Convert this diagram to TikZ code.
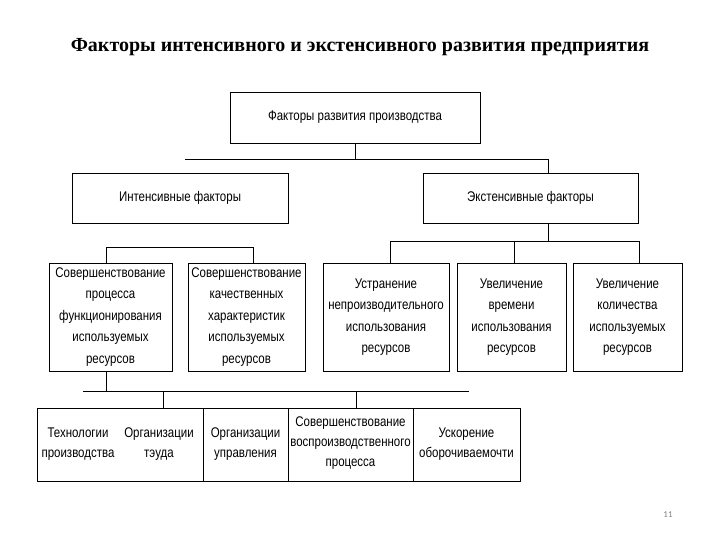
\documentclass[tikz,border=0pt]{standalone}
\usepackage{fontspec}
\setmainfont{Liberation Serif}
\newfontfamily\boxfont[FakeStretch=0.82]{Liberation Sans}
\newfontfamily\pagefont{Carlito}
\tikzstyle{factor}=[
        draw,
        line width=0.8pt,
        align=center,
        inner sep=0pt,
        font=\boxfont\fontsize{14}{21.5}\selectfont
]
\tikzstyle{cell}=[
        align=center,
        inner sep=0pt,
        font=\boxfont\fontsize{14}{20}\selectfont
]
\tikzstyle{link}=[
        line width=0.8pt
]

\begin{document}
\begin{tikzpicture}[x=1pt,y=-1pt]
                    \useasboundingbox (0,0) rectangle (720,540);

                    \node[font=\bfseries\fontsize{20}{22}\selectfont] (title) at (360,47) {Факторы интенсивного и экстенсивного развития предприятия};

                    \node[factor, minimum width=250pt, minimum height=51pt] (prod) at (355,117.5) {Факторы развития производства};
                    \node[factor, minimum width=216pt, minimum height=50pt] (intens) at (180,198) {Интенсивные факторы};
                    \node[factor, minimum width=215pt, minimum height=50pt] (extens) at (530.5,198) {Экстенсивные факторы};

                    \node[factor, minimum width=123pt, minimum height=108pt] (proc) at (110.5,317) {Совершенствование\\процесса\\функционирования\\используемых\\ресурсов};
                    \node[factor, minimum width=117pt, minimum height=108pt] (qual) at (246.5,317) {Совершенствование\\качественных\\характеристик\\используемых\\ресурсов};
                    \node[factor, minimum width=126pt, minimum height=108pt] (elim) at (386,317) {Устранение\\непроизводительного\\использования\\ресурсов};
                    \node[factor, minimum width=109pt, minimum height=108pt] (time) at (511.5,317) {Увеличение\\времени\\использования\\ресурсов};
                    \node[factor, minimum width=109pt, minimum height=108pt] (qty) at (627.5,317) {Увеличение\\количества\\используемых\\ресурсов};

                    \node[factor, minimum width=483pt, minimum height=73pt] (bottom) at (278.5,444.5) {};
                    \foreach \x in {203,288,413} {
                        \draw[link] (\x,408) -- (\x,481);
                    }
                    \node[cell] (tech) at (78,444) {Технологии\\производства};
                    \node[cell] (labour) at (159,444) {Организации\\тэуда};
                    \node[cell] (manage) at (245.5,444) {Организации\\управления};
                    \node[cell] (repro) at (350.5,443) {Совершенствование\\воспроизводственного\\процесса};
                    \node[cell] (turn) at (466.5,444) {Ускорение\\оборочиваемочти};

                    \coordinate (busL) at (185,159);
                    \coordinate (jext) at (548,159);
                    \draw[link] (prod.south) -- (prod.south |- jext);
                    \draw[link] (busL) -- (jext) -- (jext |- extens.north);

                    \coordinate (i1) at (106,247);
                    \coordinate (i2) at (253,247);
                    \draw[link] (i1 |- proc.north) -- (i1) -- (i2) -- (i2 |- qual.north);

                    \coordinate (e1) at (390,241);
                    \coordinate (e2) at (514,241);
                    \coordinate (e3) at (639,241);
                    \draw[link] (extens.south -| jext) -- (jext |- e1);
                    \draw[link] (e1) -- (e3);
                    \foreach \c/\n in {e1/elim,e2/time,e3/qty} {
                        \draw[link] (\c) -- (\c |- \n.north);
                    }

                    \coordinate (busB) at (83,391);
                    \coordinate (busBend) at (469,391);
                    \coordinate (d1) at (163,391);
                    \coordinate (d2) at (356,391);
                    \draw[link] (proc.south -| i1) -- (i1 |- busB);
                    \draw[link] (busB) -- (busBend);
                    \foreach \c in {d1,d2} {
                        \draw[link] (\c) -- (\c |- bottom.north);
                    }

                    \node[font=\pagefont\fontsize{9}{9}\selectfont, text=gray] (page) at (668,515) {11};
                \end{tikzpicture}
\end{document}
